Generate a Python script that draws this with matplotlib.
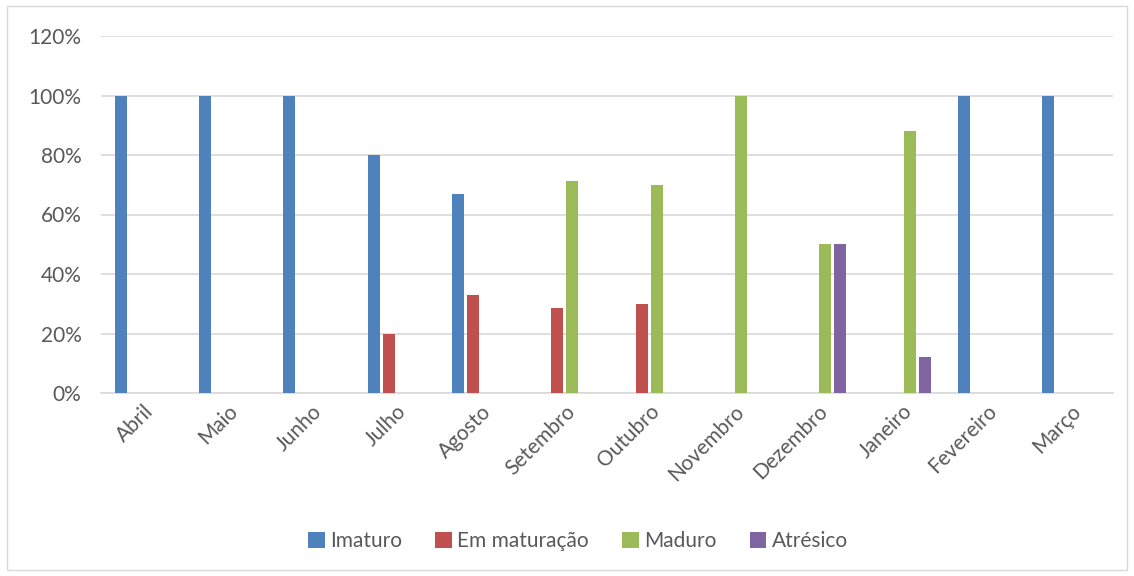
import numpy as np
import matplotlib.pyplot as plt
from matplotlib.patches import Rectangle
from matplotlib.ticker import FuncFormatter

plt.rcParams['font.family'] = ['Lato', 'DejaVu Sans']

meses = ['Abril', 'Maio', 'Junho', 'Julho', 'Agosto', 'Setembro', 'Outubro',
         'Novembro', 'Dezembro', 'Janeiro', 'Fevereiro', 'Março']
imaturo = [100, 100, 100, 80, 67, 0, 0, 0, 0, 0, 100, 100]
em_maturacao = [0, 0, 0, 20, 33, 28.6, 30, 0, 0, 0, 0, 0]
maduro = [0, 0, 0, 0, 0, 71.4, 70, 100, 50, 88, 0, 0]
atresico = [0, 0, 0, 0, 0, 0, 0, 0, 50, 12, 0, 0]

series = [
    ('Imaturo', imaturo, '#4f81bd'),
    ('Em maturação', em_maturacao, '#c0504d'),
    ('Maduro', maduro, '#9bbb59'),
    ('Atrésico', atresico, '#8064a2'),
]

fig = plt.figure(figsize=(11.34, 5.76), dpi=100)
ax = fig.add_axes([101 / 1134, 1 - 393 / 576, 1012 / 1134, 357 / 576])

x = np.arange(len(meses))
width = 0.142
pitch = 0.178
for i, (nome, vals, cor) in enumerate(series):
    ax.bar(x + (i - 1.5) * pitch, vals, width, color=cor, label=nome, zorder=3)

ax.set_xlim(-0.5, len(meses) - 0.5)
ax.set_ylim(0, 120)
ax.set_yticks(np.arange(0, 121, 20))
ax.yaxis.set_major_formatter(FuncFormatter(lambda v, p: f'{v:.0f}%'))
ax.grid(axis='y', color='#d9d9d9', linewidth=1.2, zorder=0)
for s in ['top', 'right', 'left']:
    ax.spines[s].set_visible(False)
ax.spines['bottom'].set_color('#d9d9d9')
ax.spines['bottom'].set_linewidth(1.2)
ax.tick_params(axis='both', length=0, labelsize=15, colors='#595959')
ax.tick_params(axis='y', pad=14)
ax.tick_params(axis='x', pad=6)
ax.set_xticks(x)
ax.set_xticklabels(meses, rotation=45, ha='right', rotation_mode='anchor')

fig.legend(loc='center', bbox_to_anchor=(578 / 1134, 1 - 541 / 576), ncol=4, frameon=False,
           fontsize=15, labelcolor='#595959', handlelength=0.8, handleheight=0.8,
           handletextpad=0.25, columnspacing=1.6)

fig.patches.append(Rectangle((7 / 1134, 6 / 576), 1 - 14 / 1134, 1 - 12 / 576,
                             transform=fig.transFigure, fill=False,
                             edgecolor='#d9d9d9', linewidth=1))

fig.savefig('out.png', dpi=100)
